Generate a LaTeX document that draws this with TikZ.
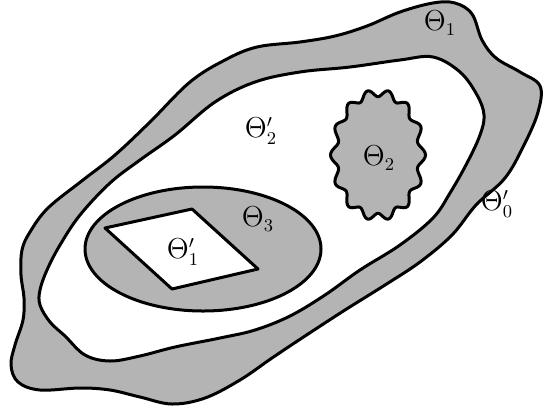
\documentclass[tikz,border=0pt]{standalone}
\usepackage{amsmath,amssymb}
\usepackage{tikz}
\definecolor{regiongray}{HTML}{B4B4B4}
\tikzset{
    region/.style={draw=black, line width=1.5pt, fill=regiongray, line join=round},
    hole/.style={region, fill=white},
    lbl/.style={font=\fontsize{13.5}{16}\selectfont, inner sep=0pt}
}
\begin{document}
\begin{tikzpicture}[x=0.5pt, y=-0.5pt]
    \useasboundingbox (0,0) rectangle (544,412);
    \draw[region] plot[smooth cycle, tension=0.6] coordinates {
        (433,3) (455,3) (472,14) (482,40) (496,58) (520,72) (540,86) (538,112)
        (524,145) (505,178) (476,205) (452,235) (420,262) (385,285) (345,310)
        (305,336) (272,358) (240,380) (205,398) (172,404) (140,397) (110,390)
        (80,388) (40,390) (18,382) (11,365) (15,345) (23,320) (24,298) (21,275)
        (22,250) (30,232) (48,208) (83,180) (115,155) (150,122) (190,82)
        (225,60) (257,47) (300,42) (335,36) (367,26) (400,12)};
    \draw[hole] plot[smooth cycle, tension=0.6] coordinates {
        (400,60) (433,57) (460,72) (477,95) (484,115) (480,135) (467,163)
        (450,193) (433,218) (400,245) (360,270) (325,295) (290,316) (255,330)
        (220,338) (175,347) (140,356) (110,361) (85,355) (65,336) (50,322)
        (40,305) (40,290) (47,270) (60,245) (80,215) (110,183) (140,160)
        (175,135) (215,102) (255,82) (300,72) (350,67)};
    \draw[region] (203,249) ellipse [x radius=118, y radius=62];
    \draw[hole] (105,228) -- (192,209) -- (258,269) -- (172,289) -- cycle;
    \draw[region] plot[smooth cycle, domain=0:358, samples=180]
        ({378+44*cos(\x)*(1+0.08*cos(14*\x))}, {155+62*sin(\x)*(1+0.06*cos(14*\x))});
    \node[lbl] (theta1) at (440,23) {$\Theta_1$};
    \node[lbl] (theta2p) at (261,131) {$\Theta'_2$};
    \node[lbl] (theta2) at (379,158) {$\Theta_2$};
    \node[lbl] (theta0p) at (497,204) {$\Theta'_0$};
    \node[lbl] (theta3) at (258,219) {$\Theta_3$};
    \node[lbl] (theta1p) at (183,252) {$\Theta'_1$};
\end{tikzpicture}
\end{document}
